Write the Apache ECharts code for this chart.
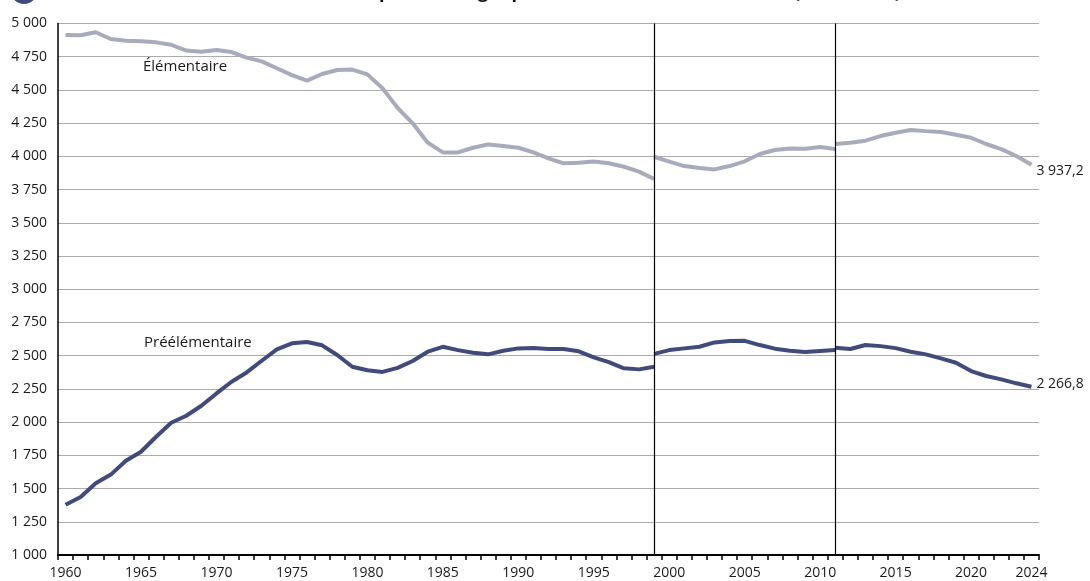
<!DOCTYPE html>
<html>
<head>
<meta charset="utf-8">
<script src="https://cdn.jsdelivr.net/npm/echarts@6/dist/echarts.min.js"></script>
<style>
html,body{margin:0;padding:0;background:#fff;}
#chart{width:1090px;height:581px;}
</style>
</head>
<body>
<div id="chart"></div>
<script>
var titleText = "Évolution des effectifs d'élèves du premier degré préélémentaire et élémentaire (en milliers)";
var years = ["1960","1961","1962","1963","1964","1965","1966","1967","1968","1969",
"1970","1971","1972","1973","1974","1975","1976","1977","1978","1979",
"1980","1981","1982","1983","1984","1985","1986","1987","1988","1989",
"1990","1991","1992","1993","1994","1995","1996","1997","1998","1999",
"2000","2001","2002","2003","2004","2005","2006","2007","2008","2009",
"2010","2011","2012","2013","2014","2015","2016","2017","2018","2019",
"2020","2021","2022","2023","2024"];
var breakYears = ["1999","2011"];
var seriesNames = ["Élémentaire","Préélémentaire"];

// Élémentaire, three segments (1960-1999, 1999-2011, 2011-2024)
var elemA = [4913,4912,4934,4883,4871,4866,4858,4840,4796,4788,
4801,4785,4743,4715,4663,4612,4570,4620,4650,4653,
4617,4512,4365,4249,4103,4030,4030,4065,4090,4078,
4065,4030,3985,3948,3952,3962,3948,3922,3885,3830];
var elemB = [3997,3960,3927,3912,3902,3927,3963,4018,4048,4060,4058,4070,4055];
var elemC = [4093,4103,4118,4153,4178,4198,4190,4183,4163,4140,4093,4055,4003,3937.2];

// Préélémentaire, three segments
var preA = [1378,1436,1540,1605,1710,1777,1890,1995,2048,2123,
2216,2304,2374,2462,2547,2593,2603,2578,2505,2417,
2390,2378,2408,2460,2530,2567,2542,2522,2510,2537,
2555,2557,2550,2550,2533,2488,2452,2405,2397,2417];
var preB = [2514,2542,2555,2567,2600,2610,2612,2580,2553,2537,2527,2535,2542];
var preC = [2560,2550,2580,2572,2557,2530,2510,2480,2447,2384,2347,2322,2292,2266.8];

var segStarts = ["1960","1999","2011"];

function place(startYear, arr){
  var out = years.map(function(){return null;});
  var s = years.indexOf(startYear);
  for (var i=0;i<arr.length;i++) out[s+i] = arr[i];
  return out;
}
function fmt(v){
  var parts = String(v).split('.');
  var ip = parts[0].replace(/\B(?=(\d{3})+(?!\d))/g, '\u00a0');
  return parts.length>1 ? ip + ',' + parts[1] : ip;
}

var FONT = "'Open Sans', 'Noto Sans', sans-serif";
var elemColor = '#a8abbb';
var preColor = '#414b7b';

function mkSeries(name, start, arr, color, withEnd, endOffset, withMark){
  var s = {
    name: name, type: 'line', data: place(start, arr),
    symbol: 'none', connectNulls: false, smooth: false,
    lineStyle: {color: color, width: 4},
    itemStyle: {color: color},
    z: 3
  };
  if (withEnd){
    s.endLabel = {show: true, formatter: function(p){
      var v = Array.isArray(p.value) ? p.value[1] : p.value; return fmt(v);
    }, color: '#1a1a1a', fontSize: 14, fontFamily: FONT, distance: 5, offset: endOffset};
  }
  if (withMark){
    s.markLine = {
      silent: true, symbol: 'none', label: {show: false},
      lineStyle: {color: '#000', width: 1.2, type: 'solid'},
      data: breakYears.map(function(y){return {xAxis: y};})
    };
  }
  return s;
}

var chart = echarts.init(document.getElementById('chart'), null, {renderer: 'canvas'});
chart.setOption({
  animation: false,
  backgroundColor: '#fff',
  grid: {left: 58, right: 51, top: 23.5, bottom: 26, containLabel: false},
  xAxis: {
    type: 'category', data: years, boundaryGap: true,
    axisLine: {show: true, lineStyle: {color: '#000', width: 2}},
    axisTick: {show: true, interval: 0, length: 5, lineStyle: {color: '#000', width: 1.5}},
    axisLabel: {
      interval: function(i){ return i % 5 === 0 || i === years.length-1; },
      color: '#1a1a1a', fontSize: 14, fontFamily: FONT, margin: 11
    },
    splitLine: {show: false}
  },
  yAxis: {
    type: 'value', min: 1000, max: 5000, interval: 250,
    axisLine: {show: true, lineStyle: {color: '#000', width: 1.5}},
    axisTick: {show: false},
    axisLabel: {formatter: fmt, color: '#1a1a1a', fontSize: 14, fontFamily: FONT, margin: 11},
    splitLine: {show: true, lineStyle: {color: '#ababab', width: 1.2}}
  },
  graphic: [
    {type: 'circle', shape: {cx: 24, cy: -9, r: 13}, style: {fill: '#3f4a7c'}},
    {type: 'text', left: 70, top: -16, style: {text: titleText, fill: '#111', font: "bold 18px " + FONT}},
    {type: 'text', left: 143, top: 59, style: {text: seriesNames[0], fill: '#1a1a1a', font: "15px " + FONT}},
    {type: 'text', left: 144, top: 335, style: {text: seriesNames[1], fill: '#1a1a1a', font: "15px " + FONT}}
  ],
  series: [
    mkSeries(seriesNames[0], segStarts[0], elemA, elemColor, false, null, true),
    mkSeries(seriesNames[0], segStarts[1], elemB, elemColor, false, null, false),
    mkSeries(seriesNames[0], segStarts[2], elemC, elemColor, true, [0, 6], false),
    mkSeries(seriesNames[1], segStarts[0], preA, preColor, false, null, false),
    mkSeries(seriesNames[1], segStarts[1], preB, preColor, false, null, false),
    mkSeries(seriesNames[1], segStarts[2], preC, preColor, true, [0, -3], false)
  ]
});
</script>
</body>
</html>
